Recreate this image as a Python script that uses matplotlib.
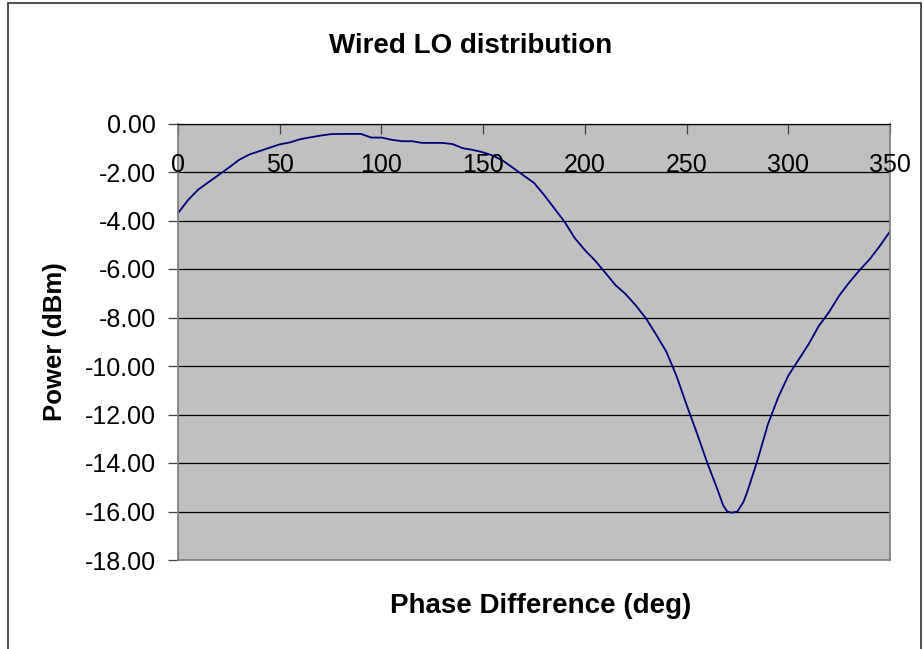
import matplotlib
matplotlib.use("Agg")
import matplotlib.pyplot as plt
from matplotlib.patches import Rectangle

phase = [0, 5, 10, 15, 20, 25, 30, 35, 40, 45, 50, 55, 60, 65, 70, 75, 80, 85,
         90, 95, 100, 105, 110, 115, 120, 125, 130, 135, 140, 145, 150, 155,
         160, 165, 170, 175, 180, 185, 190, 195, 200, 205, 210, 215, 220, 225,
         230, 235, 240, 245, 250, 255, 260, 265, 268, 270, 272, 275, 278, 280,
         285, 290, 295, 300, 305, 310, 315, 320, 325, 330, 335, 340, 345, 350]
power = [-3.70, -3.15, -2.72, -2.42, -2.12, -1.82, -1.50, -1.28, -1.14, -1.00,
         -0.86, -0.78, -0.65, -0.57, -0.50, -0.44, -0.43, -0.43, -0.43, -0.58,
         -0.58, -0.67, -0.73, -0.73, -0.80, -0.80, -0.80, -0.85, -1.02, -1.09,
         -1.19, -1.33, -1.55, -1.85, -2.15, -2.45, -2.95, -3.50, -4.05, -4.72,
         -5.22, -5.65, -6.15, -6.66, -7.03, -7.50, -8.03, -8.70, -9.40, -10.40,
         -11.60, -12.75, -13.95, -15.05, -15.75, -16.00, -16.05, -16.00, -15.60,
         -15.15, -13.85, -12.40, -11.30, -10.40, -9.75, -9.10, -8.35, -7.78,
         -7.10, -6.55, -6.05, -5.60, -5.05, -4.45]

xticks = [0, 50, 100, 150, 200, 250, 300, 350]
yticks = [0, -2, -4, -6, -8, -10, -12, -14, -16, -18]

plt.rcParams['font.family'] = ['Liberation Sans', 'DejaVu Sans']

fig = plt.figure(figsize=(9.24, 6.49), dpi=100)
fig.patch.set_facecolor('white')

# outer chart frame (bottom edge is cut off in the original)
fig.patches.append(Rectangle((8 / 924, -0.05), 913 / 924, 1.05 - 2.5 / 649,
                             transform=fig.transFigure, fill=False,
                             edgecolor='#303030', linewidth=1.2))

ax = fig.add_axes([178 / 924, 1 - 560 / 649, 712 / 924, 436.5 / 649])
ax.set_facecolor('#C0C0C0')
ax.plot(phase, power, color='#000080', linewidth=1.3)

ax.set_xlim(0, 350)
ax.set_ylim(-18, 0)
ax.set_yticks(yticks)
ax.set_yticklabels(['%.2f' % v for v in yticks], fontsize=18)
ax.grid(axis='y', color='black', linewidth=0.9)
ax.tick_params(axis='y', direction='out', length=7, width=0.9,
               color='#404040', pad=9)

# x axis: ticks on the top edge, labels sitting on the -2 gridline
ax.set_xticks(xticks)
ax.tick_params(axis='x', top=True, bottom=False, labelbottom=False,
               direction='in', length=7.5, width=0.9, color='#404040')
for xt in xticks:
    ax.text(xt, -2, str(xt), ha='center', va='baseline', fontsize=18)

for s in ['left', 'right', 'bottom']:
    ax.spines[s].set_color('#808080')
    ax.spines[s].set_linewidth(1.3)
ax.spines['top'].set_color('black')
ax.spines['top'].set_linewidth(0.9)

fig.text(471 / 924, 1 - 53 / 649, 'Wired LO distribution', ha='center',
         va='baseline', fontsize=20, fontweight='bold')
fig.text(541 / 924, 1 - 613 / 649, 'Phase Difference (deg)', ha='center',
         va='baseline', fontsize=20, fontweight='bold')
fig.text(55 / 924, 1 - 342 / 649, 'Power (dBm)', ha='center', va='center',
         rotation=90, fontsize=18.5, fontweight='bold')

fig.savefig('out.png', dpi=100)
